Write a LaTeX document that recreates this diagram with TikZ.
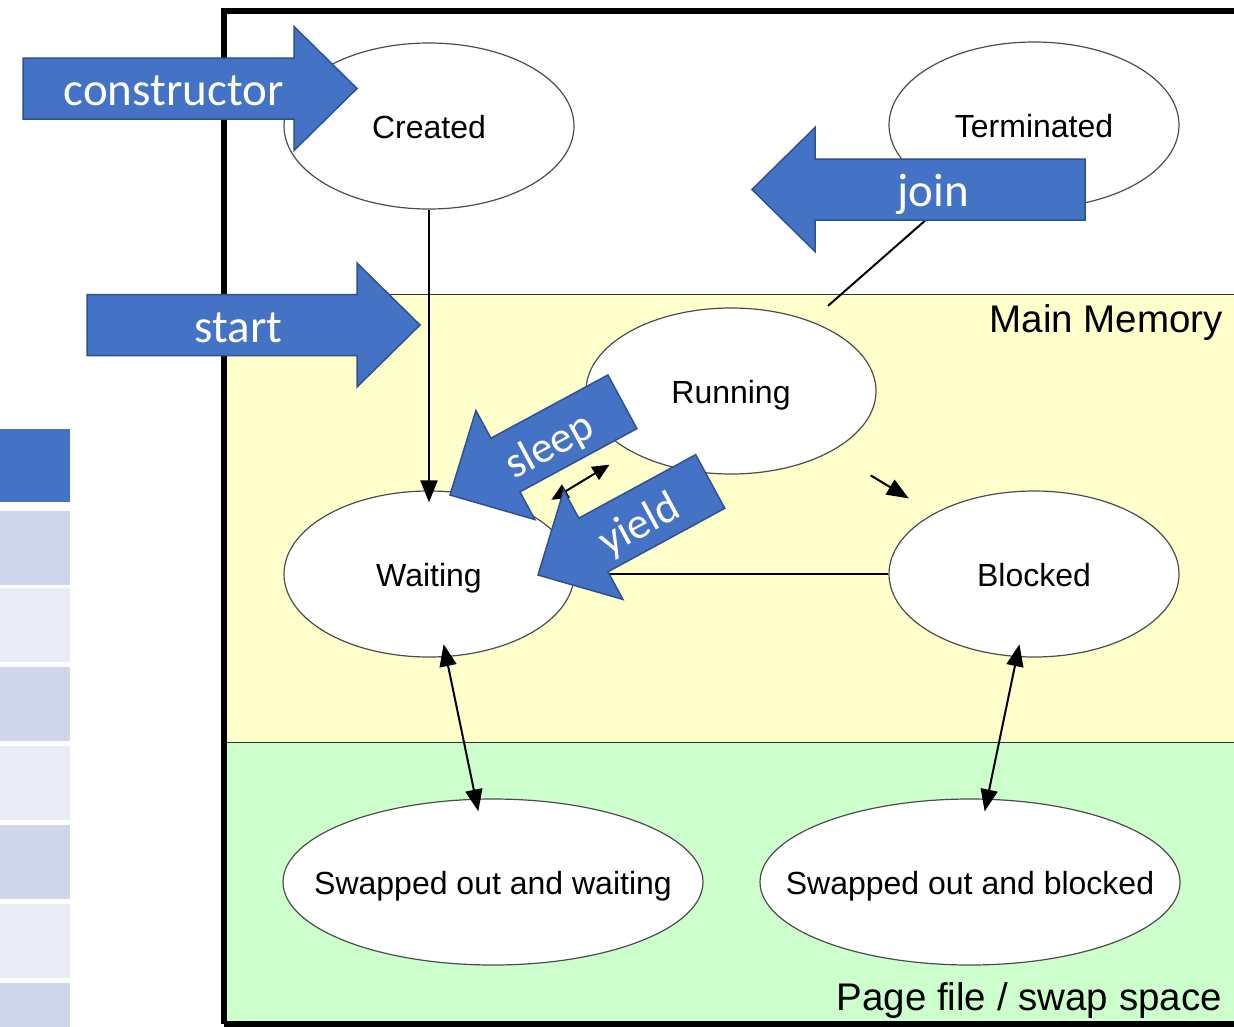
\documentclass[tikz,border=0pt]{standalone}
\usepackage{fontspec}
\setmainfont{Liberation Sans}
\newfontfamily\calibri{Carlito}
\usepackage{xcolor}
\usetikzlibrary{shapes.geometric, arrows.meta, calc}
\definecolor{ppblue}{HTML}{4472C4}
\definecolor{ppborder}{HTML}{2F528F}
\definecolor{memyellow}{HTML}{FFFFCC}
\definecolor{swapgreen}{HTML}{CCFFCC}
\definecolor{stripdark}{HTML}{CFD5EA}
\definecolor{striplight}{HTML}{E9EBF5}
\tikzset{
    state/.style={
        ellipse,
        draw=black!70,
        line width=1.2pt,
        fill=white,
        inner xsep=-60pt,
        text height=24pt,
        text depth=0pt,
        minimum width=290pt,
        minimum height=166pt,
        font=\fontsize{32}{38}\selectfont,
    },
    wide/.style={
        minimum width=420pt,
    },
    conn/.style={
        line width=2pt,
        -{Triangle[length=22pt,width=17pt]},
    },
    both/.style={
        line width=2pt,
        {Triangle[length=22pt,width=17pt]}-{Triangle[length=22pt,width=17pt]},
    },
    small/.style={
        line width=2pt,
        {Triangle[length=17pt,width=15pt]}-{Triangle[length=17pt,width=15pt]},
    },
    region/.style={
        font=\fontsize{38.5}{44}\selectfont,
        anchor=base east,
        inner sep=0pt,
    },
    arrowlabel/.style={
        text=white,
        inner sep=0pt,
        text height=34pt,
        text depth=0pt,
    },
    arrowtext/.initial={},
    pics/blockarrow/.style n args={3}{
        code={
            \filldraw[fill=ppblue, draw=ppborder, line width=1.5pt]
                (0,0) -- (-63,-62) -- (-63,-30.5) -- (-#1,-30.5)
                -- (-#1,30.5) -- (-63,30.5) -- (-63,62) -- cycle;
            \node[arrowlabel, rotate=#3] (-label) at (-#2,0) {\calibri\pgfkeysvalueof{/tikz/arrowtext}};
        }
    },
}

\begin{document}
\begin{tikzpicture}[x=1pt, y=-1pt]
    \useasboundingbox (0,0) rectangle (1234,1026);
    \clip (0,0) rectangle (1234,1026);

    % memory areas
    \fill[memyellow] (227,294) rectangle (1240,742);
    \fill[swapgreen] (227,742) rectangle (1240,1030);
    \draw[black!80, line width=1pt] (227,294) -- (1240,294);
    \draw[black!80, line width=1pt] (227,742) -- (1240,742);
    \draw[line width=6pt] (224,1024) -- (224,10.5) -- (1250,10.5);
    \draw[line width=6pt] (224,1024) -- (1250,1024);

    \node[region] (mainmem) at (1223,332) {Main Memory};
    \node[region] (pagefile) at (1222,1010) {Page file / swap space};

    % states
    \node[state] (created) at (429,126) {Created};
    \node[state] (terminated) at (1034,125) {Terminated};
    \node[state] (running) at (731,391) {Running};
    \node[state] (waiting) at (429,574) {Waiting};
    \node[state] (blocked) at (1034,574) {Blocked};
    \node[state, wide] (swapwait) at (493,882) {Swapped out and waiting};
    \node[state, wide] (swapblock) at (970,882) {Swapped out and blocked};

    \draw[conn, shorten >=-12pt] (created) -- (waiting);
    \draw[conn, shorten <=23pt] (running) -- (terminated);
    \draw[conn, shorten <=46pt, shorten >=29pt] (running) -- (blocked);
    \draw[small, shorten <=25pt, shorten >=26pt] (running) -- (waiting);
    \draw[conn] (blocked) -- (waiting);
    \draw[both, shorten <=-13pt, shorten >=-13pt] (waiting) -- (swapwait);
    \draw[both, shorten <=-13pt, shorten >=-13pt] (blocked) -- (swapblock);

    % method arrows
    \pic[font=\fontsize{47}{56}\selectfont, arrowtext=constructor] (construct) at (357,88.5) {blockarrow={334}{183.5}{0}};
    \pic[font=\fontsize{47}{56}\selectfont, arrowtext=join, rotate=180] (join) at (752,189.5) {blockarrow={333}{181}{0}};
    \pic[font=\fontsize{47}{56}\selectfont, arrowtext=start] (start) at (420,325) {blockarrow={333}{181.5}{0}};
    \pic[font=\fontsize{44}{52}\selectfont, arrowtext=sleep, rotate=208.4] (sleep) at (450,495) {blockarrow={196}{111}{28.4}};
    \pic[font=\fontsize{44}{52}\selectfont, arrowtext=yield, rotate=208.5] (yield) at (538,575) {blockarrow={196}{113}{28.5}};

    % slide strip on the left
    \fill[ppblue] (0,429) rectangle (70,502);
    \foreach \y/\c in {511/stripdark, 588/striplight, 667/stripdark, 746/striplight, 825/stripdark, 904/striplight, 983/stripdark}
        \fill[\c] (0,\y) rectangle (70,\y+74);
\end{tikzpicture}
\end{document}
